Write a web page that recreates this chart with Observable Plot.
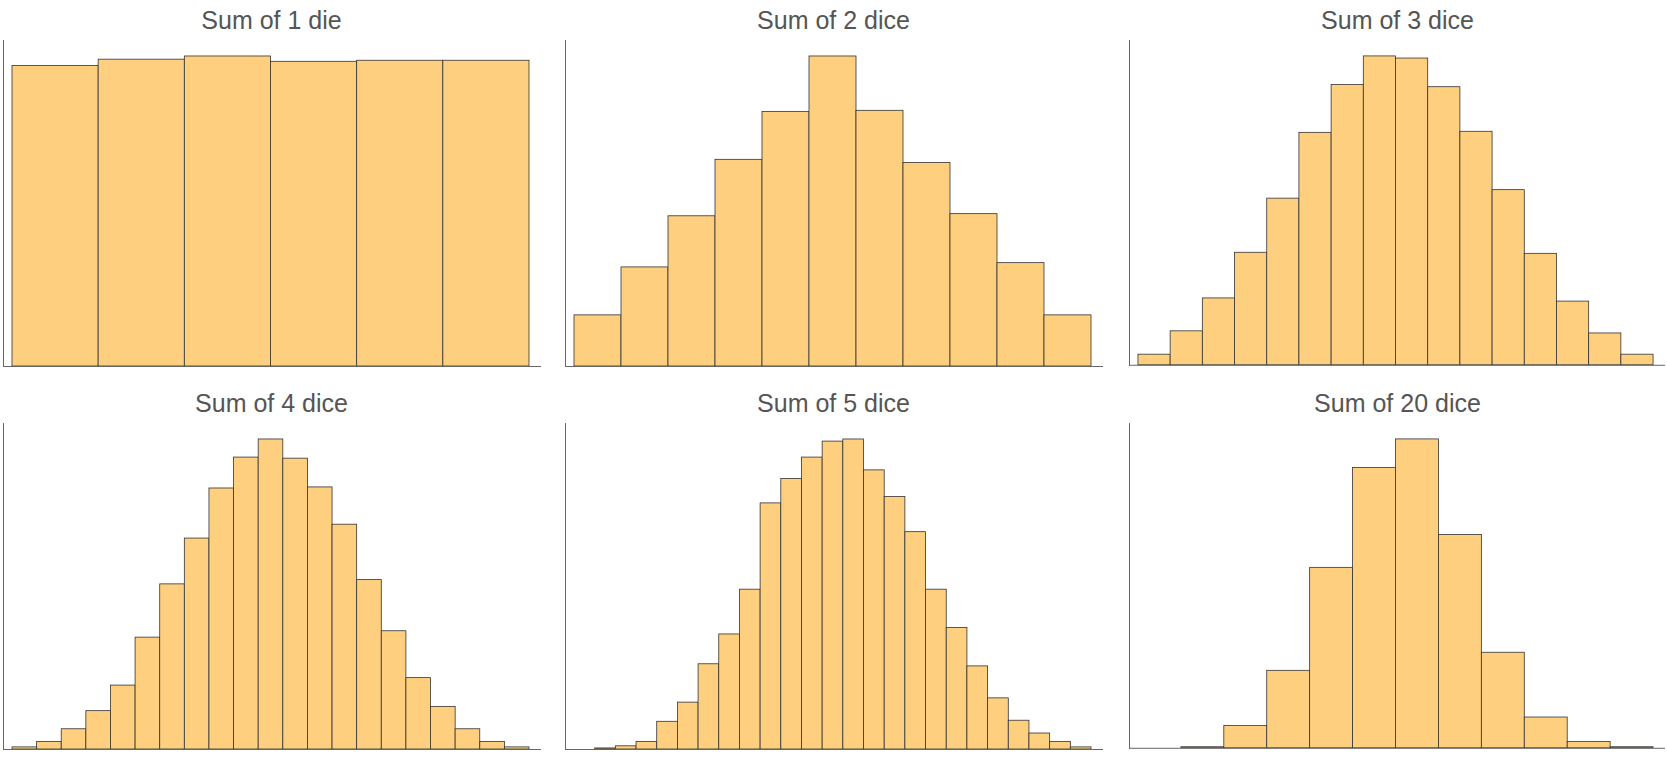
<!DOCTYPE html>
<html><head><meta charset="utf-8">
<script src="https://cdn.jsdelivr.net/npm/d3@7"></script>
<script src="https://cdn.jsdelivr.net/npm/@observablehq/plot@0.6"></script>
<style>
body{margin:0;background:#fff;font-family:"Liberation Sans",Arial,sans-serif;}
#grid{display:grid;grid-template-columns:562px 564px 541px;grid-auto-rows:383px;}
.cell{position:relative;}
.title{height:40px;line-height:40px;font-size:25px;color:#555;text-align:center;width:543px;}
</style></head><body>
<div id="grid"></div>
<script>
const titles = ["Sum of 1 die","Sum of 2 dice","Sum of 3 dice","Sum of 4 dice","Sum of 5 dice","Sum of 20 dice"];
const dice1 = [282,288,291,286,287,287];
const dice2 = [48,93,141,194,239,291,240,191,143,97,48];
const dice3 = [10,32,63,106,157,219,264,291,289,262,220,165,105,60,30,10];
const dice4 = [2,7,19,36,60,105,155,198,245,274,291,273,246,211,159,111,67,40,19,7,2];
const dice5 = [0,1,3,7,26,44,80,108,150,231,254,274,289,291,262,237,204,150,114,78,48,27,15,7,2];
const dice20 = [0,1,21,73,170,264,291,201,90,29,6,1];
const series = [dice1,dice2,dice3,dice4,dice5,dice20];
const grid = document.getElementById("grid");
series.forEach((vals,k)=>{
  const cell = document.createElement("div"); cell.className="cell";
  const t = document.createElement("div"); t.className="title"; t.textContent = titles[k];
  cell.appendChild(t);
  const data = vals.map((v,i)=>({i,v}));
  const mx = d3.max(vals);
  const p = Plot.plot({
    width: 543, height: 343,
    marginLeft: 3, marginRight: 2, marginTop: 0, marginBottom: 17,
    x: {domain:[0, vals.length], range:[12, 529], axis:null},
    y: {domain:[0, mx*306/291], axis:null},
    marks: [
      Plot.rectY(data, {x1:"i", x2: d=>d.i+1, y:"v", fill:"#fdcf7f", stroke:"#333", strokeWidth:0.8}),
      Plot.frame({anchor:"left", stroke:"#666"}),
      Plot.ruleY([0], {stroke:"#666"})
    ]
  });
  cell.appendChild(p);
  grid.appendChild(cell);
});
</script>
</body></html>
